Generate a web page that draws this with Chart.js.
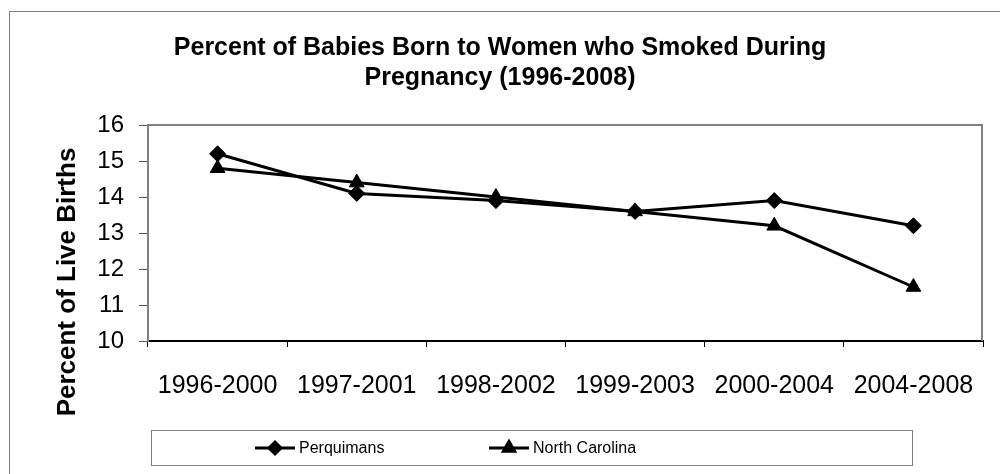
<!DOCTYPE html>
<html>
<head>
<meta charset="utf-8">
<script src="https://cdn.jsdelivr.net/npm/chart.js@4/dist/chart.umd.min.js"></script>
<style>
  body { margin: 0; background: #fff; }
  #wrap { width: 1000px; height: 474px; position: relative; }
</style>
</head>
<body>
<div id="wrap"><canvas id="grafico"></canvas></div>
<script>
// datos del grafico
const categories = ['1996-2000', '1997-2001', '1998-2002', '1999-2003', '2000-2004', '2004-2008'];
const perquimans = [15.2, 14.1, 13.9, 13.6, 13.9, 13.2];
const northCarolina = [14.8, 14.4, 14.0, 13.6, 13.2, 11.5];
const seriesNames = ['Perquimans', 'North Carolina'];
const titleLines = ['Percent of Babies Born to Women who Smoked During', 'Pregnancy (1996-2008)'];
const yAxisTitle = 'Percent of Live Births';
const yMin = 10, yMax = 16, yStep = 1;

const FONT = '"Liberation Sans", Arial, sans-serif';

// marco exterior, titulo, titulo del eje y, borde del area y leyenda
const decoraciones = {
    id: 'decoraciones',
    afterDraw(chart) {
        const ctx = chart.ctx;
        const area = chart.chartArea;
        ctx.save();

        // marco exterior
        ctx.strokeStyle = '#808080';
        ctx.lineWidth = 1;
        ctx.strokeRect(9.5, 11.5, 1000, 500);

        // borde superior y derecho del area
        ctx.strokeStyle = '#808080';
        ctx.lineWidth = 2;
        ctx.beginPath();
        ctx.moveTo(area.left, area.top);
        ctx.lineTo(area.right - 1, area.top);
        ctx.lineTo(area.right - 1, area.bottom);
        ctx.stroke();

        // titulo
        ctx.fillStyle = '#000';
        ctx.font = 'bold 25px ' + FONT;
        ctx.textAlign = 'center';
        ctx.textBaseline = 'middle';
        titleLines.forEach((t, i) => ctx.fillText(t, 500, 48 + i * 30));

        // titulo eje y
        ctx.save();
        ctx.translate(68, 282);
        ctx.rotate(-Math.PI / 2);
        ctx.font = 'bold 26px ' + FONT;
        ctx.fillText(yAxisTitle, 0, 0);
        ctx.restore();

        // leyenda
        ctx.strokeStyle = '#808080';
        ctx.lineWidth = 1;
        ctx.strokeRect(151.5, 430.5, 761, 35);
        const items = [{ x: 255 }, { x: 489 }];
        ctx.font = '16px ' + FONT;
        ctx.textAlign = 'left';
        chart.data.datasets.forEach((ds, i) => {
            const x0 = items[i].x, y = 448;
            ctx.strokeStyle = ds.borderColor;
            ctx.lineWidth = 3;
            ctx.beginPath();
            ctx.moveTo(x0, y);
            ctx.lineTo(x0 + 40, y);
            ctx.stroke();
            Chart.helpers.drawPoint(ctx, {
                pointStyle: ds.pointStyle,
                radius: ds.pointStyle === 'triangle' ? 6.5 : 6,
                rotation: 0,
                borderWidth: 1
            }, x0 + 20, y);
            ctx.fillStyle = '#000';
            ctx.fill();
            ctx.fillText(ds.label, x0 + 44, y + 1);
        });
        ctx.restore();
    }
};

const ctx = document.getElementById('grafico').getContext('2d');
new Chart(ctx, {
    type: 'line',
    data: {
        labels: categories,
        datasets: [{
            label: seriesNames[0],
            data: perquimans,
            borderColor: '#000',
            backgroundColor: '#000',
            borderWidth: 3,
            pointStyle: 'rectRot',
            pointRadius: 8,
            pointBorderWidth: 1,
            tension: 0
        }, {
            label: seriesNames[1],
            data: northCarolina,
            borderColor: '#000',
            backgroundColor: '#000',
            borderWidth: 3,
            pointStyle: 'triangle',
            pointRadius: 8.5,
            pointBorderWidth: 1,
            tension: 0
        }]
    },
    options: {
        responsive: true,
        maintainAspectRatio: false,
        animation: false,
        layout: { padding: { top: 125, left: 0, right: 17, bottom: 73 } },
        plugins: {
            legend: { display: false },
            title: { display: false },
            tooltip: { enabled: false }
        },
        scales: {
            x: {
                offset: true,
                afterFit: s => { s.height = 60; },
                grid: {
                    offset: true,
                    drawOnChartArea: false,
                    color: '#000',
                    tickLength: 6
                },
                border: { color: '#000', width: 2 },
                ticks: {
                    color: '#000',
                    font: { family: FONT, size: 25 },
                    padding: 24,
                    maxRotation: 0,
                    autoSkip: false
                }
            },
            y: {
                min: yMin,
                max: yMax,
                afterFit: s => { s.width = 148; },
                grid: {
                    drawOnChartArea: false,
                    color: '#555',
                    tickLength: 9
                },
                border: { color: '#808080', width: 2 },
                ticks: {
                    stepSize: yStep,
                    color: '#000',
                    font: { family: FONT, size: 24 },
                    padding: 15
                }
            }
        }
    },
    plugins: [decoraciones]
});
</script>
</body>
</html>
